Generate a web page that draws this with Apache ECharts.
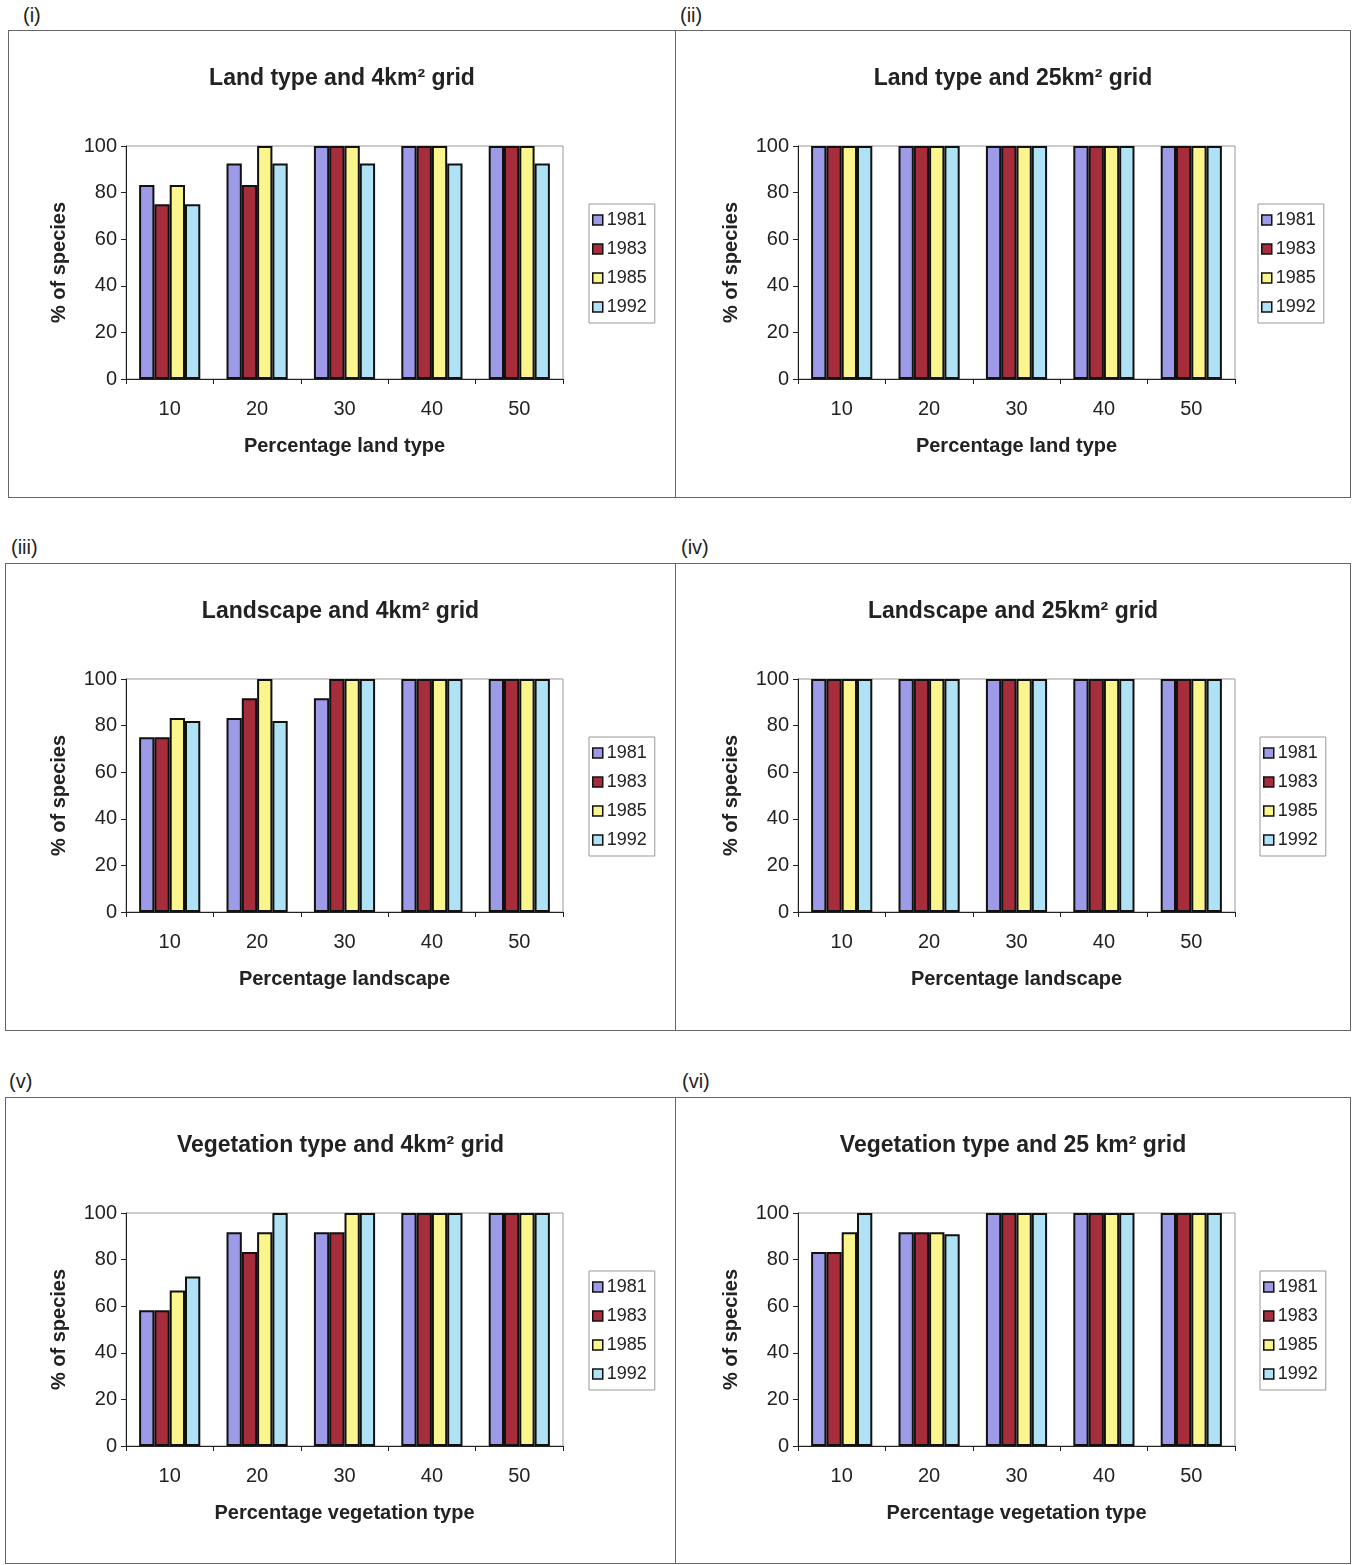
<!DOCTYPE html>
<html>
<head>
<meta charset="utf-8">
<script src="https://cdn.jsdelivr.net/npm/echarts@6/dist/echarts.min.js"></script>
<style>
  body { margin: 0; background: #fff; width: 1353px; height: 1565px; position: relative; overflow: hidden; font-family: 'Liberation Sans', Arial, sans-serif; }
  .panel { position: absolute; border: 1px solid #666; box-sizing: border-box; }
  .tag { position: absolute; font-size: 20px; color: #222; }
</style>
</head>
<body>
<span class="tag" style="left:23px;top:4px">(i)</span>
<span class="tag" style="left:680px;top:4px">(ii)</span>
<span class="tag" style="left:11px;top:536px">(iii)</span>
<span class="tag" style="left:681px;top:536px">(iv)</span>
<span class="tag" style="left:9px;top:1070px">(v)</span>
<span class="tag" style="left:682px;top:1070px">(vi)</span>

<div id="p1" class="panel" style="left:8px;top:30px;width:668px;height:468px"></div>
<div id="p2" class="panel" style="left:675px;top:30px;width:676px;height:468px"></div>
<div id="p3" class="panel" style="left:5px;top:563px;width:671px;height:468px"></div>
<div id="p4" class="panel" style="left:675px;top:563px;width:676px;height:468px"></div>
<div id="p5" class="panel" style="left:5px;top:1097px;width:671px;height:467px"></div>
<div id="p6" class="panel" style="left:675px;top:1097px;width:676px;height:467px"></div>

<script>
const categories = ['10', '20', '30', '40', '50']
const years = ['1981', '1983', '1985', '1992']
const colors = ['#9d9be8', '#a52d3c', '#faf58c', '#b0e2f5']

// one row per year: 1981, 1983, 1985, 1992
const landType4km = [
  [83.3, 92.5, 100, 100, 100],
  [75, 83.3, 100, 100, 100],
  [83.3, 100, 100, 100, 100],
  [75, 92.5, 92.5, 92.5, 92.5]
]
const landType25km = [
  [100, 100, 100, 100, 100],
  [100, 100, 100, 100, 100],
  [100, 100, 100, 100, 100],
  [100, 100, 100, 100, 100]
]
const landscape4km = [
  [75, 83.3, 91.7, 100, 100],
  [75, 91.7, 100, 100, 100],
  [83.3, 100, 100, 100, 100],
  [82, 82, 100, 100, 100]
]
const landscape25km = [
  [100, 100, 100, 100, 100],
  [100, 100, 100, 100, 100],
  [100, 100, 100, 100, 100],
  [100, 100, 100, 100, 100]
]
const vegetation4km = [
  [58.3, 91.7, 91.7, 100, 100],
  [58.3, 83.3, 91.7, 100, 100],
  [66.7, 91.7, 100, 100, 100],
  [72.7, 100, 100, 100, 100]
]
const vegetation25km = [
  [83.3, 91.7, 100, 100, 100],
  [83.3, 91.7, 100, 100, 100],
  [91.7, 91.7, 100, 100, 100],
  [100, 90.9, 100, 100, 100]
]

const panels = [
  { id: 'p1', title: 'Land type and 4km² grid', xName: 'Percentage land type', data: landType4km, left: 117, legendLeft: 580 },
  { id: 'p2', title: 'Land type and 25km² grid', xName: 'Percentage land type', data: landType25km, left: 122, legendLeft: 582 },
  { id: 'p3', title: 'Landscape and 4km² grid', xName: 'Percentage landscape', data: landscape4km, left: 120, legendLeft: 583 },
  { id: 'p4', title: 'Landscape and 25km² grid', xName: 'Percentage landscape', data: landscape25km, left: 122, legendLeft: 584 },
  { id: 'p5', title: 'Vegetation type and 4km² grid', xName: 'Percentage vegetation type', data: vegetation4km, left: 120, legendLeft: 583 },
  { id: 'p6', title: 'Vegetation type and 25 km² grid', xName: 'Percentage vegetation type', data: vegetation25km, left: 122, legendLeft: 584 }
]

const font = "'Liberation Sans', Arial, sans-serif"

panels.forEach(p => {
  const chart = echarts.init(document.getElementById(p.id))
  chart.setOption({
    animation: false,
    title: {
      text: p.title,
      left: 'center',
      top: 31,
      textStyle: { fontFamily: font, fontSize: 23, fontWeight: 'bold', color: '#222' }
    },
    legend: {
      data: years,
      orient: 'vertical',
      left: p.legendLeft,
      top: 173,
      padding: [7, 8, 7, 3],
      itemGap: 11,
      itemWidth: 10,
      itemHeight: 10,
      icon: 'rect',
      borderColor: '#999',
      borderWidth: 1,
      itemStyle: { borderColor: '#111', borderWidth: 1.5 },
      textStyle: { fontFamily: font, fontSize: 18, color: '#222', padding: [0, 0, 0, -1] }
    },
    grid: {
      left: p.left,
      top: 115,
      width: 437,
      height: 233,
      show: true,
      borderColor: '#999',
      borderWidth: 1
    },
    xAxis: {
      type: 'category',
      data: categories,
      name: p.xName,
      nameLocation: 'middle',
      nameGap: 57,
      nameTextStyle: { fontFamily: font, fontSize: 20, fontWeight: 'bold', color: '#222' },
      axisLine: { lineStyle: { color: '#222', width: 1 } },
      axisTick: { show: true, length: 5, lineStyle: { color: '#222' } },
      axisLabel: { fontFamily: font, fontSize: 20, color: '#222', margin: 20 }
    },
    yAxis: {
      type: 'value',
      min: 0,
      max: 100,
      interval: 20,
      name: '% of species',
      nameLocation: 'middle',
      nameRotate: 90,
      nameGap: 57,
      nameTextStyle: { fontFamily: font, fontSize: 20, fontWeight: 'bold', color: '#222' },
      axisLine: { show: true, lineStyle: { color: '#222', width: 1 } },
      axisTick: { show: true, length: 5, lineStyle: { color: '#222' } },
      axisLabel: { fontFamily: font, fontSize: 20, color: '#222', margin: 9 },
      splitLine: { show: false }
    },
    series: years.map((y, i) => ({
      name: y,
      type: 'bar',
      data: p.data[i],
      barGap: '0%',
      barCategoryGap: '30%',
      itemStyle: { color: colors[i], borderColor: '#111', borderWidth: 2 }
    }))
  })
})
</script>
</body>
</html>
